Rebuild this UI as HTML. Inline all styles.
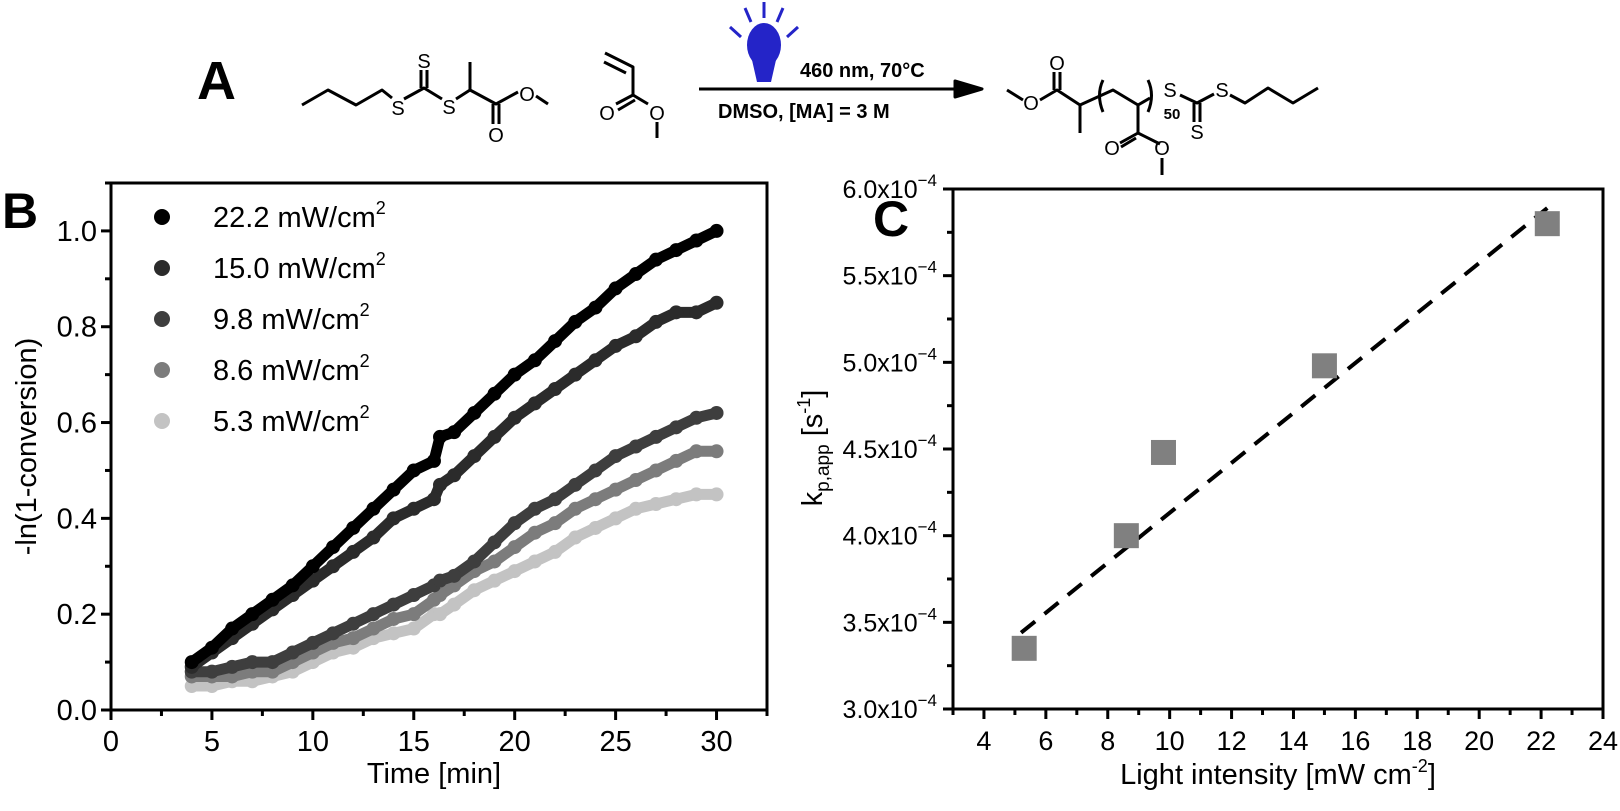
<!DOCTYPE html>
<html><head><meta charset="utf-8">
<style>
html,body{margin:0;padding:0;background:#fff;}
svg{display:block;font-family:"Liberation Sans",sans-serif;}
</style></head>
<body>
<svg id="fig" width="1620" height="811" viewBox="0 0 1620 811">
<g stroke="#000" stroke-width="3" fill="none" stroke-linejoin="round">
  <text x="197" y="99" font-size="54" font-weight="bold" stroke="none" fill="#000">A</text>
  <polyline points="302,105 328,90 356,105 382,90 392,98"/>
  <polyline points="404,99 424,88 442,99"/>
  <line x1="421" y1="88" x2="421" y2="70"/><line x1="427" y1="88" x2="427" y2="70"/>
  <polyline points="456,99 470,90 496,104 518,92"/>
  <line x1="470" y1="90" x2="470" y2="62"/>
  <line x1="493" y1="104" x2="493" y2="124"/><line x1="499" y1="104" x2="499" y2="124"/>
  <line x1="536" y1="96" x2="548" y2="104"/>
  <!-- methyl acrylate -->
  <polyline points="605,53 633,67 633,95 648,104"/>
  <line x1="604" y1="62" x2="626" y2="73"/>
  <line x1="633" y1="95" x2="616" y2="104"/><line x1="635" y1="100" x2="618" y2="110"/>
  <line x1="657" y1="122" x2="657" y2="138"/>
  <line x1="699" y1="89" x2="960" y2="89"/>
  <polygon points="955,81 982,89 955,97" fill="#000"/>
  <!-- product -->
  <polyline points="1007,90 1023,100"/>
  <polyline points="1040,100 1057,90 1080,105 1113,90 1138,105 1150,98"/>
  <line x1="1054" y1="90" x2="1054" y2="72"/><line x1="1060" y1="90" x2="1060" y2="72"/>
  <line x1="1080" y1="105" x2="1080" y2="133"/>
  <polyline points="1138,105 1138,133 1160,144"/>
  <line x1="1138" y1="133" x2="1120" y2="143"/><line x1="1136" y1="138" x2="1121" y2="147"/>
  <line x1="1162" y1="158" x2="1162" y2="175"/>
  <polyline points="1180,95 1197,103 1214,94"/>
  <line x1="1194" y1="103" x2="1194" y2="122"/><line x1="1200" y1="103" x2="1200" y2="122"/>
  <polyline points="1230,95 1245,103 1268,88 1293,103 1318,88"/>
  <path d="M1103,80 Q1096,95 1103,112"/>
  <path d="M1148,80 Q1155,95 1148,112"/>
</g>
<g font-size="20" fill="#000" text-anchor="middle">
  <text x="398" y="115">S</text><text x="424" y="68">S</text><text x="449" y="114">S</text>
  <text x="496" y="142">O</text><text x="527" y="101">O</text>
  <text x="607" y="120">O</text><text x="657" y="120">O</text>
  <text x="1031" y="110">O</text><text x="1057" y="70">O</text>
  <text x="1112" y="155">O</text><text x="1162" y="155">O</text>
  <text x="1170" y="97">S</text><text x="1197" y="139">S</text><text x="1222" y="97">S</text>
  <text x="1172" y="119" font-size="15" font-weight="bold">50</text>
</g>
<g>
  <ellipse cx="764" cy="45" rx="17" ry="22" fill="#2424c8"/>
  <path d="M752,60 L776,60 L771,82 L757,82 Z" fill="#2424c8"/>
  <g stroke="#2424c8" stroke-width="3">
    <line x1="730" y1="27" x2="741" y2="37"/><line x1="745" y1="8" x2="751" y2="22"/>
    <line x1="764" y1="2" x2="764" y2="18"/><line x1="783" y1="8" x2="777" y2="22"/>
    <line x1="798" y1="27" x2="787" y2="37"/>
  </g>
</g>
<text x="800" y="77" font-size="20" font-weight="bold">460 nm, 70°C</text>
<text x="718" y="118" font-size="20" font-weight="bold">DMSO, [MA] = 3 M</text>

<text x="2" y="228" font-size="50" font-weight="bold">B</text>
<text x="873" y="236" font-size="50" font-weight="bold">C</text>

<g id="chartB"></g>
<g id="chartC"></g>
</svg>
<script>
const NS='http://www.w3.org/2000/svg';
function mk(parent,tag,attrs,text){const e=document.createElementNS(NS,tag);for(const k in attrs)e.setAttribute(k,attrs[k]);if(text!==undefined)e.textContent=text;parent.appendChild(e);return e;}

// ---------- Chart B data ----------
const timesB=[4,5,6,7,8,9,10,11,12,13,14,15,16,16.3,17,18,19,20,21,22,23,24,25,26,27,28,29,30];
const s222=[0.10,0.13,0.17,0.20,0.23,0.26,0.30,0.34,0.38,0.42,0.46,0.50,0.52,0.57,0.58,0.62,0.66,0.70,0.73,0.77,0.81,0.84,0.88,0.91,0.94,0.96,0.98,1.00];
const s150=[0.09,0.12,0.15,0.18,0.21,0.24,0.27,0.30,0.33,0.36,0.40,0.42,0.44,0.47,0.49,0.53,0.57,0.61,0.64,0.67,0.70,0.73,0.76,0.78,0.81,0.83,0.83,0.85];
const s98=[0.08,0.08,0.09,0.10,0.10,0.12,0.14,0.16,0.18,0.20,0.22,0.24,0.26,0.27,0.28,0.31,0.35,0.39,0.42,0.44,0.47,0.50,0.53,0.55,0.57,0.59,0.61,0.62];
const s86=[0.07,0.07,0.07,0.08,0.08,0.10,0.12,0.14,0.15,0.17,0.19,0.20,0.23,0.24,0.26,0.29,0.31,0.34,0.37,0.39,0.42,0.44,0.46,0.48,0.50,0.52,0.54,0.54];
const s53=[0.05,0.05,0.06,0.06,0.07,0.08,0.10,0.12,0.13,0.15,0.16,0.17,0.20,0.20,0.22,0.25,0.27,0.29,0.31,0.33,0.36,0.38,0.40,0.42,0.43,0.44,0.45,0.45];
const legendB=['22.2 mW/cm','15.0 mW/cm','9.8 mW/cm','8.6  mW/cm','5.3 mW/cm'];
const xTicksB=[0,5,10,15,20,25,30];
const yTicksB=[0.0,0.2,0.4,0.6,0.8,1.0];

// ---------- Chart C data ----------
const intensC=[5.3,8.6,9.8,15.0,22.2];
const kC=[3.35,4.0,4.48,4.98,5.8];
const fitX=[5.2,22.2];
const fitY=[3.44,5.89];
const xTicksC=[4,6,8,10,12,14,16,18,20,22,24];
const yTicksC=[3.0,3.5,4.0,4.5,5.0,5.5,6.0];

// ---------- draw B ----------
(function(){
  const g=document.getElementById('chartB');
  const L=111,R=767,T=183,B=710, x0=0,x1=32.5,y0=0,y1=1.1;
  const X=v=>L+(v-x0)/(x1-x0)*(R-L), Y=v=>B-(v-y0)/(y1-y0)*(B-T);
  const series=[{d:s53,c:'#c3c3c3'},{d:s86,c:'#7c7c7c'},{d:s98,c:'#3e3e3e'},{d:s150,c:'#2b2b2b'},{d:s222,c:'#000'}];
  series.forEach((s,i)=>{
    const sg=mk(g,'g',{});
    
    
    const pts=timesB.map((t,j)=>X(t).toFixed(1)+','+Y(s.d[j]).toFixed(1)).join(' ');
    const pl=mk(sg,'polyline',{points:pts,fill:'none',stroke:s.c,'stroke-width':11,'stroke-linecap':'round','stroke-linejoin':'round'});
    
    
    timesB.forEach((t,j)=>{
      const c=mk(sg,'circle',{cx:X(t),cy:Y(s.d[j]),r:7,fill:s.c});
      
      
    });
  });
  const fr=mk(g,'rect',{x:L,y:T,width:R-L,height:B-T,fill:'none',stroke:'#000','stroke-width':3});
  
  
  for(let v=0;v<=32.5;v+=2.5){const big=(v%5===0);mk(g,'line',{x1:X(v),x2:X(v),y1:B,y2:B+(big?10:6),stroke:'#000','stroke-width':3});}
  for(let v=0;v<=1.1001;v+=0.1){const big=Math.round(v*10)%2===0;mk(g,'line',{x1:L,x2:L-(big?10:6),y1:Y(v),y2:Y(v),stroke:'#000','stroke-width':3});}
  xTicksB.forEach(v=>{const t=mk(g,'text',{x:X(v),y:B+41,'font-size':29,'text-anchor':'middle'},String(v));});
  yTicksB.forEach(v=>{const t=mk(g,'text',{x:L-14,y:Y(v)+10,'font-size':29,'text-anchor':'end'},v.toFixed(1));});
  const xt=mk(g,'text',{x:X(16),y:783,'font-size':29,'text-anchor':'middle'},'Time [min]');
  
  const yt=mk(g,'text',{x:0,y:0,'font-size':29,'text-anchor':'middle',transform:'translate(36,'+Y(0.55)+') rotate(-90)'},'-ln(1-conversion)');
  
  const lc=['#000','#2b2b2b','#3e3e3e','#7c7c7c','#c3c3c3'];
  legendB.forEach((lab,i)=>{
    const y=217+i*51;
    const le=mk(g,'g',{});
    
    
    mk(le,'circle',{cx:162,cy:y,r:8,fill:lc[i]});
    const t=mk(le,'text',{x:213,y:y+10,'font-size':29},lab);
    mk(t,'tspan',{'font-size':18,dy:-13},'2');
  });
})();

// ---------- draw C ----------
(function(){
  const g=document.getElementById('chartC');
  const L=953,R=1603,T=189,B=709,x0=3,x1=24,y0=3.0,y1=6.0;
  const X=v=>L+(v-x0)/(x1-x0)*(R-L), Y=v=>B-(v-y0)/(y1-y0)*(B-T);
  const fl=mk(g,'line',{x1:X(fitX[0]),y1:Y(fitY[0]),x2:X(fitX[1]),y2:Y(fitY[1]),stroke:'#000','stroke-width':4,'stroke-dasharray':'18,12'});
  
  
  intensC.forEach((v,i)=>{
    const r=mk(g,'rect',{x:X(v)-12.5,y:Y(kC[i])-12.5,width:25,height:25,fill:'#808080'});
    
    
  });
  const fr=mk(g,'rect',{x:L,y:T,width:R-L,height:B-T,fill:'none',stroke:'#000','stroke-width':3});
  
  
  for(let v=3;v<=24;v++){const big=v%2===0;mk(g,'line',{x1:X(v),x2:X(v),y1:B,y2:B+(big?10:6),stroke:'#000','stroke-width':3});}
  for(let v=3.0;v<=6.001;v+=0.25){const big=Math.abs(v*2-Math.round(v*2))<0.01;mk(g,'line',{x1:L,x2:L-(big?10:6),y1:Y(v),y2:Y(v),stroke:'#000','stroke-width':3});}
  xTicksC.forEach(v=>{const t=mk(g,'text',{x:X(v),y:B+41,'font-size':27,'text-anchor':'middle'},String(v));});
  yTicksC.forEach(v=>{
    const t=mk(g,'text',{x:L-16,y:Y(v)+9,'font-size':25,'text-anchor':'end'},v.toFixed(1)+'x10');
    mk(t,'tspan',{'font-size':17,dy:-12},'\u22124');
    
  });
  const xt=mk(g,'text',{x:X(13.5),y:784,'font-size':29,'text-anchor':'middle'},'Light intensity [mW cm');
  mk(xt,'tspan',{'font-size':18,dy:-12},'-2');
  mk(xt,'tspan',{dy:12},']');
  
  const yt=mk(g,'text',{x:0,y:0,'font-size':29,'text-anchor':'middle',transform:'translate(822,448) rotate(-90)'},'k');
  mk(yt,'tspan',{'font-size':19,dy:7},'p,app');
  mk(yt,'tspan',{dy:-7},' [s');
  mk(yt,'tspan',{'font-size':18,dy:-12},'-1');
  mk(yt,'tspan',{dy:12},']');
  
})();
</script>
</body></html>
